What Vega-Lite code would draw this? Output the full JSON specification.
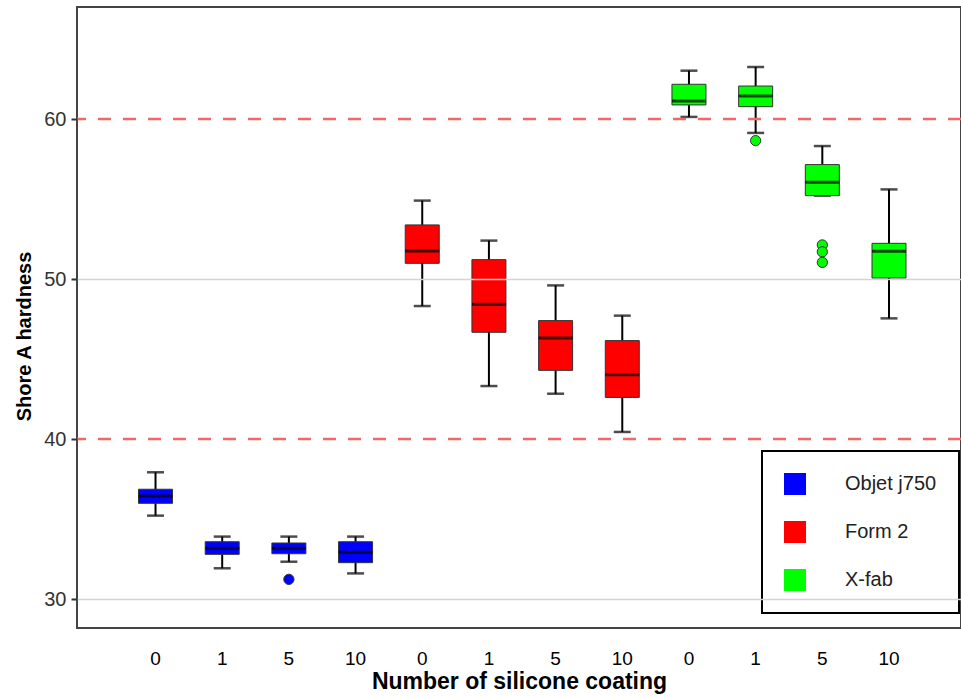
{
  "$schema": "https://vega.github.io/schema/vega-lite/v6.json",
  "width": 884,
  "height": 621,
  "autosize": {"type": "none"},
  "padding": {"left": 77, "top": 7, "right": 0, "bottom": 69},
  "background": "white",
  "config": {
    "view": {"stroke": "#444", "strokeWidth": 2},
    "font": "Liberation Sans",
    "legend": {"strokeWidth": 2}
  },
  "datasets": {
    "boxes": [
      {"id": "Objet j750|0", "group": "Objet j750", "lower": 35.21, "q1": 35.98, "median": 36.44, "q3": 36.86, "upper": 37.92},
      {"id": "Objet j750|1", "group": "Objet j750", "lower": 31.92, "q1": 32.79, "median": 33.17, "q3": 33.58, "upper": 33.9},
      {"id": "Objet j750|5", "group": "Objet j750", "lower": 32.33, "q1": 32.83, "median": 33.17, "q3": 33.5, "upper": 33.9},
      {"id": "Objet j750|10", "group": "Objet j750", "lower": 31.6, "q1": 32.27, "median": 32.92, "q3": 33.58, "upper": 33.9},
      {"id": "Form 2|0", "group": "Form 2", "lower": 48.31, "q1": 50.98, "median": 51.75, "q3": 53.38, "upper": 54.9},
      {"id": "Form 2|1", "group": "Form 2", "lower": 43.31, "q1": 46.67, "median": 48.42, "q3": 51.21, "upper": 52.4},
      {"id": "Form 2|5", "group": "Form 2", "lower": 42.83, "q1": 44.29, "median": 46.31, "q3": 47.4, "upper": 49.6},
      {"id": "Form 2|10", "group": "Form 2", "lower": 40.44, "q1": 42.6, "median": 44.02, "q3": 46.15, "upper": 47.71},
      {"id": "X-fab|0", "group": "X-fab", "lower": 60.13, "q1": 60.88, "median": 61.13, "q3": 62.17, "upper": 63.02},
      {"id": "X-fab|1", "group": "X-fab", "lower": 59.13, "q1": 60.77, "median": 61.44, "q3": 62.06, "upper": 63.25},
      {"id": "X-fab|5", "group": "X-fab", "lower": 55.21, "q1": 55.21, "median": 56.04, "q3": 57.15, "upper": 58.31},
      {"id": "X-fab|10", "group": "X-fab", "lower": 47.54, "q1": 50.06, "median": 51.73, "q3": 52.23, "upper": 55.6}
    ],
    "outliers": [
      {"id": "Objet j750|5", "group": "Objet j750", "value": 31.23},
      {"id": "X-fab|1", "group": "X-fab", "value": 58.65},
      {"id": "X-fab|5", "group": "X-fab", "value": 52.13},
      {"id": "X-fab|5", "group": "X-fab", "value": 51.7},
      {"id": "X-fab|5", "group": "X-fab", "value": 51.04}
    ],
    "limits": [{"limit": 40}, {"limit": 60}]
  },
  "layer": [
    {
      "data": {"name": "boxes"},
      "mark": {"type": "rule", "color": "black", "strokeWidth": 2},
      "encoding": {
        "x": {
          "field": "id", "type": "nominal",
          "scale": {
            "type": "band",
            "domain": ["Objet j750|0", "Objet j750|1", "Objet j750|5", "Objet j750|10", "Form 2|0", "Form 2|1", "Form 2|5", "Form 2|10", "X-fab|0", "X-fab|1", "X-fab|5", "X-fab|10"],
            "paddingInner": 0.49, "paddingOuter": 0.8737, "align": 0.528
          },
          "axis": {
            "title": "Number of silicone coating",
            "labelExpr": "split(datum.value, '|')[1]",
            "ticks": false, "domain": false, "grid": false,
            "labelAngle": 0, "labelPadding": 21,
            "labelFont": "Liberation Sans Narrow, Arial Narrow, Liberation Sans, sans-serif",
            "labelFontSize": 19, "labelColor": "black",
            "titleFont": "Liberation Sans Narrow, Arial Narrow, Liberation Sans, sans-serif",
            "titleFontSize": 23, "titleFontWeight": "bold", "titleColor": "black", "titlePadding": 2
          }
        },
        "y": {
          "field": "lower", "type": "quantitative",
          "scale": {"domain": [28.1875, 67], "nice": false, "zero": false},
          "axis": {
            "values": [30, 40, 50, 60],
            "title": "Shore A hardness",
            "titleFont": "Liberation Sans Narrow, Arial Narrow, Liberation Sans, sans-serif",
            "titleFontSize": 20, "titleFontWeight": "bold", "titleColor": "black", "titlePadding": 9.5,
            "titleY": 329,
            "labelFont": "Liberation Sans", "labelFontSize": 20, "labelColor": "#333", "labelPadding": 5,
            "tickColor": "#333", "tickSize": 6, "tickWidth": 2,
            "domain": false,
            "grid": true,
            "gridColor": {"condition": {"test": "datum.value == 40 || datum.value == 60", "value": "transparent"}, "value": "#d4d4d4"},
            "gridWidth": 1.5,
            "zindex": 1
          }
        },
        "y2": {"field": "upper"}
      }
    },
    {
      "data": {"name": "boxes"},
      "mark": {"type": "tick", "color": "black", "size": 17, "thickness": 2.5},
      "encoding": {
        "x": {"field": "id", "type": "nominal"},
        "y": {"field": "lower", "type": "quantitative"}
      }
    },
    {
      "data": {"name": "boxes"},
      "mark": {"type": "tick", "color": "black", "size": 17, "thickness": 2.5},
      "encoding": {
        "x": {"field": "id", "type": "nominal"},
        "y": {"field": "upper", "type": "quantitative"}
      }
    },
    {
      "data": {"name": "boxes"},
      "mark": {"type": "bar", "size": 34, "stroke": "#333", "strokeWidth": 1, "opacity": 1},
      "encoding": {
        "x": {"field": "id", "type": "nominal"},
        "y": {"field": "q1", "type": "quantitative"},
        "y2": {"field": "q3"},
        "color": {
          "field": "group", "type": "nominal",
          "scale": {"domain": ["Objet j750", "Form 2", "X-fab"], "range": ["#0000ff", "#ff0000", "#00ff00"]},
          "legend": {
            "title": null, "orient": "none", "legendX": 685, "legendY": 444,
            "direction": "vertical",
            "strokeColor": "black", "padding": 22,
            "symbolType": "square", "symbolSize": 484, "symbolStrokeWidth": 0, "symbolOpacity": 1,
            "labelFont": "Liberation Sans", "labelFontSize": 20, "labelColor": "#222", "labelLimit": 300,
            "labelOffset": 39, "rowPadding": 26
          }
        }
      }
    },
    {
      "data": {"name": "boxes"},
      "mark": {"type": "tick", "color": "black", "size": 34, "thickness": 3},
      "encoding": {
        "x": {"field": "id", "type": "nominal"},
        "y": {"field": "median", "type": "quantitative"}
      }
    },
    {
      "data": {"name": "outliers"},
      "mark": {"type": "point", "filled": true, "size": 105, "stroke": "#333", "strokeWidth": 1, "opacity": 1},
      "encoding": {
        "x": {"field": "id", "type": "nominal"},
        "y": {"field": "value", "type": "quantitative"},
        "color": {"field": "group", "type": "nominal", "legend": null}
      }
    },
    {
      "data": {"name": "limits"},
      "mark": {"type": "rule", "color": "#f06868", "strokeWidth": 2.5, "strokeDash": [13, 12]},
      "encoding": {
        "y": {"field": "limit", "type": "quantitative"}
      }
    }
  ]
}
